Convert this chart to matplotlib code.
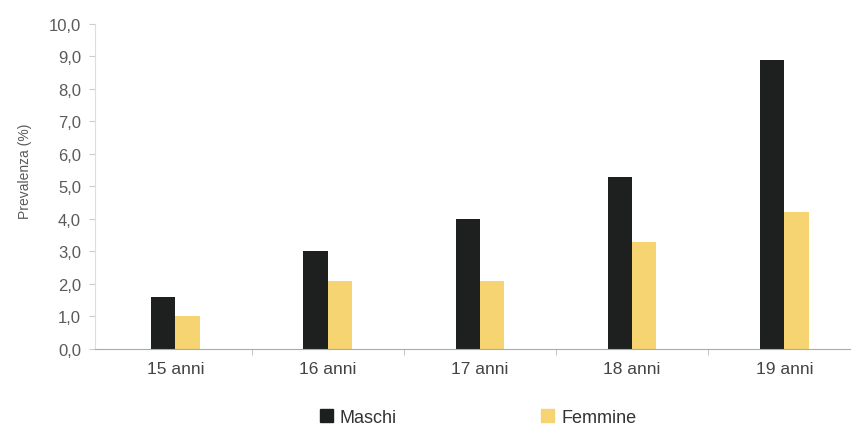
import numpy as np
import matplotlib.pyplot as plt
from matplotlib.patches import Patch

categories = ["15 anni", "16 anni", "17 anni", "18 anni", "19 anni"]
maschi = [1.6, 3.0, 4.0, 5.3, 8.9]
femmine = [1.0, 2.1, 2.1, 3.3, 4.2]
yticks = np.arange(0, 10.5, 1.0)

plt.rcParams['font.family'] = ['Liberation Sans', 'DejaVu Sans']

BLACK = '#1d201f'
YELLOW = '#f6d472'
GREY = '#5a5a5a'

fig = plt.figure(figsize=(8.54, 4.31), dpi=100)
ax = fig.add_axes([0.111, 0.188, 0.884, 0.754])

x = np.arange(len(categories))
w = 0.16
ax.bar(x - w / 2, maschi, w, color=BLACK)
ax.bar(x + w / 2, femmine, w, color=YELLOW)

ax.set_xlim(-0.53, 4.43)
ax.set_ylim(0, 10)
ax.set_yticks(yticks)
ax.set_yticklabels([f"{v:.1f}".replace('.', ',') for v in yticks])
ax.set_xticks(x)
ax.set_xticklabels(categories)
ax.set_xticks(np.arange(0.5, len(categories) - 0.5, 1.0), minor=True)
ax.tick_params(axis='x', which='major', length=0, pad=9, labelsize=12.5, labelcolor='#444444')
ax.tick_params(axis='x', which='minor', length=4, color='#bbbbbb')
ax.tick_params(axis='y', length=4, color='#cccccc', labelsize=12, labelcolor=GREY, pad=6)

for s in ['top', 'right']:
    ax.spines[s].set_visible(False)
ax.spines['left'].set_color('#dddddd')
ax.spines['bottom'].set_color('#aaaaaa')

ax.set_ylabel("Prevalenza (%)", fontsize=10, color=GREY)
ax.yaxis.set_label_coords(-0.083, 0.55)

handles = [Patch(color=BLACK, label="Maschi"), Patch(color=YELLOW, label="Femmine")]
fig.legend(handles=handles, loc='center', bbox_to_anchor=(0.56, 0.03), ncol=2,
           frameon=False, fontsize=13, handlelength=0.7, handleheight=0.7,
           handletextpad=0.4, columnspacing=8, labelcolor='#333333')

fig.savefig("out.png", dpi=100)
